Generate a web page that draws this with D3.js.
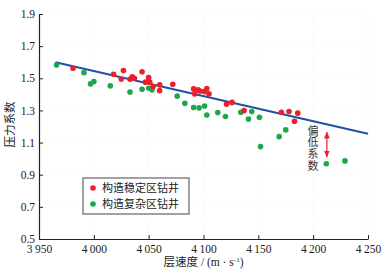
<!doctype html>
<html lang="zh-CN">
<head>
	<meta charset="UTF-8">
	<title>压力系数与层速度</title>
	<script src="https://cdn.jsdelivr.net/npm/d3@7"></script>
	<style>
		body { margin: 0; background: #fff; }
		svg text { font-family: "Liberation Serif", "Noto Sans CJK SC", serif; }
		.cjk { font-family: "Noto Sans CJK SC", sans-serif; }
	</style>
</head>
<body>
	<script>
		// 构造稳定区钻井
		var stableX = [3981, 4018, 4027, 4025, 4035, 4037, 4033, 4044, 4047, 4050, 4051, 4054, 4060, 4060, 4072,
			4091, 4092, 4095, 4097, 4101, 4103, 4105, 4121, 4126, 4137, 4171, 4178, 4186, 4183];
		var stableY = [1.562, 1.525, 1.548, 1.496, 1.510, 1.500, 1.494, 1.541, 1.476, 1.504, 1.476, 1.448, 1.459, 1.423, 1.463,
			1.434, 1.403, 1.428, 1.421, 1.417, 1.436, 1.403, 1.339, 1.350, 1.299, 1.289, 1.293, 1.283, 1.233];
		// 构造复杂区钻井
		var complexX = [3966, 3991, 3997, 4000, 4015, 4033, 4044, 4050, 4053, 4076, 4083, 4091, 4096, 4101, 4103,
			4113, 4120, 4134, 4144, 4141, 4151, 4152, 4169, 4175, 4212, 4229];
		var complexY = [1.583, 1.535, 1.465, 1.479, 1.453, 1.414, 1.432, 1.438, 1.428, 1.389, 1.344, 1.318, 1.316, 1.328, 1.272,
			1.287, 1.262, 1.289, 1.293, 1.246, 1.257, 1.075, 1.137, 1.179, 0.968, 0.986];
		// 拟合线
		var fitX = [3965, 4250];
		var fitY = [1.60, 1.155];

		var xTicks = [3950, 4000, 4050, 4100, 4150, 4200, 4250];
		var yTicks = [0.5, 0.7, 0.9, 1.1, 1.3, 1.5, 1.7, 1.9];
		var legendNames = ['构造稳定区钻井', '构造复杂区钻井'];

		var w = 386, h = 273,
			mL = 39, mR = 368, mT = 14, mB = 239;

		var red = '#e8222b', green = '#1aa84a', blue = '#2150a6';

		var x = d3.scaleLinear().domain([3950, 4250]).range([mL, mR]);
		var y = d3.scaleLinear().domain([0.5, 1.9]).range([mB, mT]);

		var svg = d3.select('body')
			.append('svg')
			.attr('width', w)
			.attr('height', h);

		// faint grid
		svg.append('g')
			.selectAll('line')
			.data(yTicks.slice(1))
			.enter()
			.append('line')
			.attr('x1', mL).attr('x2', mR)
			.attr('y1', function(d) { return y(d); })
			.attr('y2', function(d) { return y(d); })
			.attr('stroke', '#f2f2f2')
			.attr('stroke-dasharray', '1,2');
		svg.append('g')
			.selectAll('line')
			.data(xTicks.slice(1))
			.enter()
			.append('line')
			.attr('y1', mT).attr('y2', mB)
			.attr('x1', function(d) { return x(d); })
			.attr('x2', function(d) { return x(d); })
			.attr('stroke', '#f2f2f2')
			.attr('stroke-dasharray', '1,2');

		var fmtX = function(d) {
			var s = String(d);
			return s.slice(0, 1) + '\u2009' + s.slice(1);
		};

		var xAxis = svg.append('g')
			.attr('transform', 'translate(0,' + mB + ')')
			.call(d3.axisBottom(x).tickValues(xTicks).tickFormat(fmtX).tickSizeInner(-4).tickSizeOuter(0).tickPadding(6));
		var yAxis = svg.append('g')
			.attr('transform', 'translate(' + mL + ',0)')
			.call(d3.axisLeft(y).tickValues(yTicks).tickFormat(d3.format('.1f')).tickSizeInner(-4).tickSizeOuter(0).tickPadding(4));

		[xAxis, yAxis].forEach(function(a) {
			a.select('.domain').attr('stroke', '#222').attr('stroke-width', 1.2);
			a.selectAll('.tick line').attr('stroke', '#222');
			a.selectAll('.tick text')
				.attr('fill', '#222')
				.style('font-family', '"Liberation Serif", serif')
				.style('font-size', '11.5px');
		});

		// axis titles
		svg.append('text')
			.attr('class', 'cjk')
			.attr('transform', 'translate(14,' + ((mT + mB) / 2 - 2) + ') rotate(-90)')
			.attr('text-anchor', 'middle')
			.attr('fill', '#222')
			.style('font-size', '11.5px')
			.text('压力系数');

		var xt = svg.append('text')
			.attr('x', (mL + mR) / 2)
			.attr('y', 266)
			.attr('text-anchor', 'middle')
			.attr('fill', '#222')
			.style('font-size', '11.5px');
		xt.append('tspan').attr('class', 'cjk').text('层速度');
		xt.append('tspan').text(' / (m · s');
		xt.append('tspan').attr('dy', -4).style('font-size', '7px').text('-1');
		xt.append('tspan').attr('dy', 4).text(')');

		// fit line
		var line = d3.line()
			.x(function(d) { return x(d[0]); })
			.y(function(d) { return y(d[1]); });
		svg.append('path')
			.datum(d3.zip(fitX, fitY))
			.attr('d', line)
			.attr('fill', 'none')
			.attr('stroke', blue)
			.attr('stroke-width', 2);

		// points
		svg.append('g')
			.selectAll('circle')
			.data(d3.zip(complexX, complexY))
			.enter()
			.append('circle')
			.attr('cx', function(d) { return x(d[0]); })
			.attr('cy', function(d) { return y(d[1]); })
			.attr('r', 2.8)
			.attr('fill', green);
		svg.append('g')
			.selectAll('circle')
			.data(d3.zip(stableX, stableY))
			.enter()
			.append('circle')
			.attr('cx', function(d) { return x(d[0]); })
			.attr('cy', function(d) { return y(d[1]); })
			.attr('r', 2.8)
			.attr('fill', red);

		// 偏低系数 annotation (vertical text)
		svg.append('text')
			.attr('class', 'cjk')
			.attr('x', 313)
			.attr('y', 125)
			.attr('fill', '#333')
			.style('writing-mode', 'vertical-rl')
			.style('text-orientation', 'upright')
			.style('letter-spacing', '0.7px')
			.style('font-size', '11px')
			.text('偏低系数');

		var defs = svg.append('defs');
		defs.append('marker')
			.attr('id', 'ah')
			.attr('viewBox', '0 0 10 10')
			.attr('refX', 9).attr('refY', 5)
			.attr('markerWidth', 6).attr('markerHeight', 6)
			.attr('orient', 'auto-start-reverse')
			.append('path')
			.attr('d', 'M0,1 L10,5 L0,9 Z')
			.attr('fill', red);
		svg.append('line')
			.attr('x1', x(4212.5)).attr('x2', x(4212.5))
			.attr('y1', y(1.165)).attr('y2', y(1.01))
			.attr('stroke', red)
			.attr('stroke-width', 1.2)
			.attr('marker-start', 'url(#ah)')
			.attr('marker-end', 'url(#ah)');

		// legend
		var lg = svg.append('g').attr('transform', 'translate(83,178)');
		lg.append('rect')
			.attr('width', 106).attr('height', 36)
			.attr('fill', '#fff')
			.attr('stroke', '#444')
			.attr('stroke-width', 1);
		var items = lg.selectAll('g')
			.data(legendNames)
			.enter()
			.append('g')
			.attr('transform', function(d, i) { return 'translate(0,' + (10 + i * 16) + ')'; });
		items.append('circle')
			.attr('cx', 10).attr('cy', 0).attr('r', 2.8)
			.attr('fill', function(d, i) { return i === 0 ? red : green; });
		items.append('text')
			.attr('class', 'cjk')
			.attr('x', 19).attr('y', 0).attr('dy', '0.35em')
			.attr('fill', '#222')
			.style('font-size', '11px')
			.text(function(d) { return d; });
	</script>
</body>
</html>
